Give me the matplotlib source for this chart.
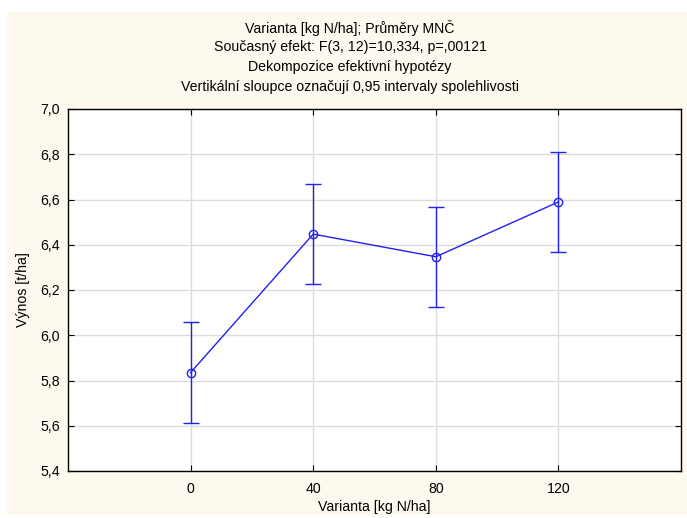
import matplotlib
matplotlib.use("Agg")
import matplotlib.pyplot as plt
from matplotlib.patches import Rectangle
from matplotlib.ticker import FuncFormatter

# Nitrogen dose variants and least-squares means of yield with 95% CI half-width
doses = [0, 40, 80, 120]
means = [5.835, 6.447, 6.347, 6.589]
ci_half = [0.222, 0.222, 0.222, 0.222]

title_lines = [
    "Varianta [kg N/ha]; Průměry MNČ",
    "Současný efekt: F(3, 12)=10,334, p=,00121",
    "Dekompozice efektivní hypotézy",
    "Vertikální sloupce označují 0,95 intervaly spolehlivosti",
]

FS = 10.2
plt.rcParams["font.family"] = ["Liberation Sans", "DejaVu Sans"]
plt.rcParams["font.size"] = FS

W, H = 687, 518
fig = plt.figure(figsize=(W / 100, H / 100), dpi=100, facecolor="white")

# cream panel behind the chart
panel = Rectangle((7 / W, 3 / H), 680 / W, 503 / H,
                  transform=fig.transFigure, facecolor="#FEF9EE",
                  edgecolor="none", zorder=-10)
fig.add_artist(panel)

left, right, top, bottom = 68, 681, 109, 471
ax = fig.add_axes([left / W, 1 - bottom / H, (right - left) / W, (bottom - top) / H])
ax.set_zorder(5)
ax.set_facecolor("white")

ax.errorbar(doses, means, yerr=ci_half, color="#2020F0", lw=1.0,
            marker="o", markersize=6, markerfacecolor="none",
            markeredgecolor="#2020F0", markeredgewidth=1.0,
            capsize=6, capthick=1.0, elinewidth=1.0, zorder=3)

ax.set_xlim(-40, 160)
ax.set_ylim(5.4, 7.0)
ax.set_xticks(doses)
ax.set_yticks([5.4, 5.6, 5.8, 6.0, 6.2, 6.4, 6.6, 6.8, 7.0])
ax.yaxis.set_major_formatter(FuncFormatter(lambda v, p: f"{v:.1f}".replace(".", ",")))
ax.grid(True, color="#DCDCDC", lw=1.0, zorder=0)
ax.set_axisbelow(True)
ax.tick_params(direction="in", length=4, width=0.8, color="black",
               top=True, right=True, labelsize=FS)
ax.tick_params(axis="x", pad=8)
ax.tick_params(axis="y", pad=6)
for s in ax.spines.values():
    s.set_color("black")
    s.set_linewidth(1.0)

ax.set_xlabel("Varianta [kg N/ha]", fontsize=FS, labelpad=3)
ax.set_ylabel("Výnos [t/ha]", fontsize=FS, labelpad=7)

cx = 350 / W
for i, line in enumerate(title_lines):
    fig.text(cx, 1 - (28 + i * 19.5) / H, line, ha="center", va="center", fontsize=FS)

fig.savefig("out.png", dpi=100, facecolor="white")
